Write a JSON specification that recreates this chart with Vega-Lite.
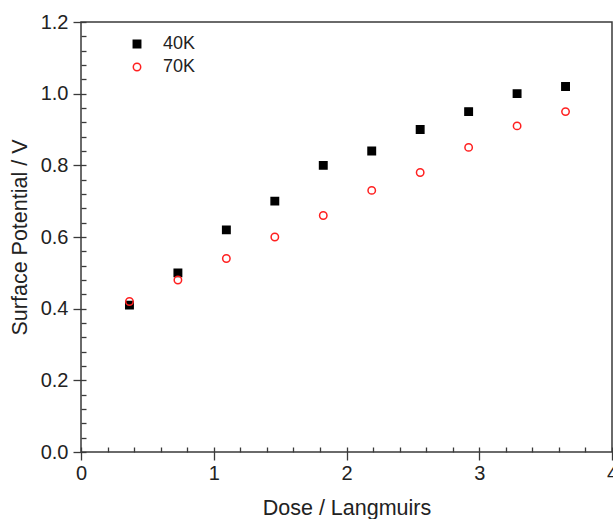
{
  "$schema": "https://vega.github.io/schema/vega-lite/v6.json",
  "width": 531,
  "height": 430,
  "autosize": {"type": "none"},
  "padding": {"left": 81, "top": 22, "right": 1, "bottom": 67},
  "config": {
    "font": "Liberation Sans",
    "view": {"stroke": "#3a3a3a", "strokeWidth": 1.5},
    "axis": {
      "domain": false,
      "tickColor": "#3a3a3a",
      "tickWidth": 1.3,
      "labelColor": "#222222",
      "titleColor": "#222222",
      "labelFontSize": 20,
      "titleFontSize": 21.5,
      "titleFontWeight": "normal",
      "labelFlush": false,
      "labelOverlap": false,
      "grid": false
    }
  },
  "data": {
    "values": [
      {"dose": 0.365, "v": 0.41, "series": "40K"},
      {"dose": 0.73, "v": 0.50, "series": "40K"},
      {"dose": 1.095, "v": 0.62, "series": "40K"},
      {"dose": 1.46, "v": 0.70, "series": "40K"},
      {"dose": 1.825, "v": 0.80, "series": "40K"},
      {"dose": 2.19, "v": 0.84, "series": "40K"},
      {"dose": 2.555, "v": 0.90, "series": "40K"},
      {"dose": 2.92, "v": 0.95, "series": "40K"},
      {"dose": 3.285, "v": 1.00, "series": "40K"},
      {"dose": 3.65, "v": 1.02, "series": "40K"},
      {"dose": 0.365, "v": 0.42, "series": "70K"},
      {"dose": 0.73, "v": 0.48, "series": "70K"},
      {"dose": 1.095, "v": 0.54, "series": "70K"},
      {"dose": 1.46, "v": 0.60, "series": "70K"},
      {"dose": 1.825, "v": 0.66, "series": "70K"},
      {"dose": 2.19, "v": 0.73, "series": "70K"},
      {"dose": 2.555, "v": 0.78, "series": "70K"},
      {"dose": 2.92, "v": 0.85, "series": "70K"},
      {"dose": 3.285, "v": 0.91, "series": "70K"},
      {"dose": 3.65, "v": 0.95, "series": "70K"}
    ]
  },
  "mark": {"type": "point", "filled": false, "size": 55, "strokeWidth": 1.5, "opacity": 1},
  "encoding": {
    "x": {"field": "dose", "type": "quantitative", "scale": {"domain": [0, 4], "nice": false},
      "axis": {
        "orient": "bottom",
        "offset": -5,
        "values": [0, 0.2, 0.4, 0.6, 0.8, 1, 1.2, 1.4, 1.6, 1.8, 2, 2.2, 2.4, 2.6, 2.8, 3, 3.2, 3.4, 3.6, 3.8, 4],
        "labelExpr": "abs(datum.value - round(datum.value)) < 1e-6 ? format(datum.value, 'd') : ''",
        "tickSize": {"condition": {"test": "abs(datum.value - round(datum.value)) < 1e-6", "value": 13}, "value": 5},
        "labelPadding": 3,
        "title": "Dose / Langmuirs",
        "titlePadding": 14
      }
    },
    "y": {"field": "v", "type": "quantitative", "scale": {"domain": [0, 1.2], "nice": false},
      "axis": {
        "orient": "left",
        "offset": -5,
        "values": [0, 0.04, 0.08, 0.12, 0.16, 0.2, 0.24, 0.28, 0.32, 0.36, 0.4, 0.44, 0.48, 0.52, 0.56, 0.6, 0.64, 0.68, 0.72, 0.76, 0.8, 0.84, 0.88, 0.92, 0.96, 1, 1.04, 1.08, 1.12, 1.16, 1.2],
        "labelExpr": "abs(datum.value * 5 - round(datum.value * 5)) < 1e-6 ? format(datum.value, '.1f') : ''",
        "tickSize": {"condition": {"test": "abs(datum.value * 5 - round(datum.value * 5)) < 1e-6", "value": 13}, "value": 5},
        "labelPadding": 5,
        "title": "Surface Potential / V",
        "titlePadding": 9
      }
    },
    "shape": {"field": "series", "type": "nominal", "scale": {"domain": ["40K", "70K"], "range": ["square", "circle"]}, "legend": {"title": null, "orient": "none", "legendX": 47, "legendY": 13, "symbolSize": 55, "symbolStrokeWidth": 1.5, "labelFontSize": 18, "labelColor": "#222222", "rowPadding": 5, "labelOffset": 17}},
    "stroke": {"field": "series", "type": "nominal", "scale": {"domain": ["40K", "70K"], "range": ["#000000", "#ff2020"]}, "legend": {"title": null, "orient": "none", "legendX": 47, "legendY": 13, "symbolSize": 55, "symbolStrokeWidth": 1.5, "labelFontSize": 18, "labelColor": "#222222", "rowPadding": 5, "labelOffset": 17}},
    "fill": {"field": "series", "type": "nominal", "scale": {"domain": ["40K", "70K"], "range": ["#000000", "transparent"]}, "legend": {"title": null, "orient": "none", "legendX": 47, "legendY": 13, "symbolSize": 55, "symbolStrokeWidth": 1.5, "labelFontSize": 18, "labelColor": "#222222", "rowPadding": 5, "labelOffset": 17}}
  }
}
